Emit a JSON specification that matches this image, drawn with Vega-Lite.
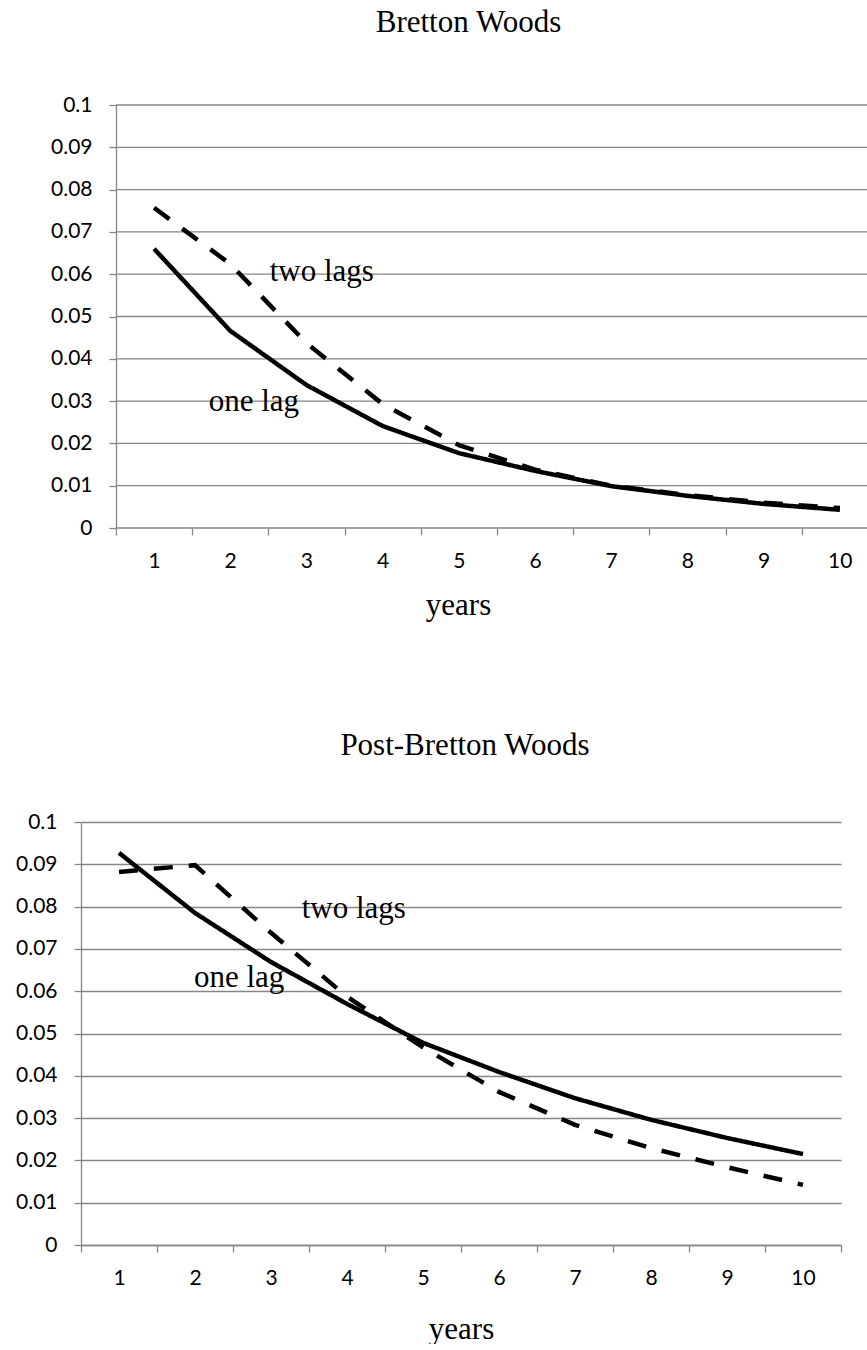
{
  "$schema": "https://vega.github.io/schema/vega-lite/v6.json",
  "background": "white",
  "padding": {"left": 15, "top": 7, "right": 0, "bottom": 0},
  "spacing": 110,
  "config": {
    "view": {"stroke": null},
    "axis": {
      "domainColor": "#868686", "tickColor": "#868686", "gridColor": "#868686",
      "domainWidth": 1.3, "tickWidth": 1.3, "gridWidth": 1.3, "tickSize": 7,
      "labelFont": "Lato", "labelFontSize": 21, "labelColor": "#000000",
      "titleFont": "Liberation Serif", "titleFontSize": 31, "titleFontWeight": "normal", "titleColor": "#000000",
      "labelFlush": false, "labelOverlap": false
    },
    "title": {"font": "Liberation Serif", "fontSize": 31, "fontWeight": "normal", "color": "#000000"}
  },
  "datasets": {
    "curves": [
      {"period": "Bretton Woods", "series": "one lag", "year": 1, "value": 0.066},
      {"period": "Bretton Woods", "series": "one lag", "year": 2, "value": 0.0466},
      {"period": "Bretton Woods", "series": "one lag", "year": 3, "value": 0.0338},
      {"period": "Bretton Woods", "series": "one lag", "year": 4, "value": 0.0241},
      {"period": "Bretton Woods", "series": "one lag", "year": 5, "value": 0.0177},
      {"period": "Bretton Woods", "series": "one lag", "year": 6, "value": 0.0135},
      {"period": "Bretton Woods", "series": "one lag", "year": 7, "value": 0.0099},
      {"period": "Bretton Woods", "series": "one lag", "year": 8, "value": 0.0076},
      {"period": "Bretton Woods", "series": "one lag", "year": 9, "value": 0.0057},
      {"period": "Bretton Woods", "series": "one lag", "year": 10, "value": 0.0043},
      {"period": "Bretton Woods", "series": "two lags", "year": 1, "value": 0.0757},
      {"period": "Bretton Woods", "series": "two lags", "year": 2, "value": 0.0624},
      {"period": "Bretton Woods", "series": "two lags", "year": 3, "value": 0.0437},
      {"period": "Bretton Woods", "series": "two lags", "year": 4, "value": 0.0293},
      {"period": "Bretton Woods", "series": "two lags", "year": 5, "value": 0.0196},
      {"period": "Bretton Woods", "series": "two lags", "year": 6, "value": 0.0138},
      {"period": "Bretton Woods", "series": "two lags", "year": 7, "value": 0.0100},
      {"period": "Bretton Woods", "series": "two lags", "year": 8, "value": 0.0078},
      {"period": "Bretton Woods", "series": "two lags", "year": 9, "value": 0.0060},
      {"period": "Bretton Woods", "series": "two lags", "year": 10, "value": 0.0047},
      {"period": "Post-Bretton Woods", "series": "one lag", "year": 1, "value": 0.0927},
      {"period": "Post-Bretton Woods", "series": "one lag", "year": 2, "value": 0.0785},
      {"period": "Post-Bretton Woods", "series": "one lag", "year": 3, "value": 0.0669},
      {"period": "Post-Bretton Woods", "series": "one lag", "year": 4, "value": 0.057},
      {"period": "Post-Bretton Woods", "series": "one lag", "year": 5, "value": 0.0478},
      {"period": "Post-Bretton Woods", "series": "one lag", "year": 6, "value": 0.0409},
      {"period": "Post-Bretton Woods", "series": "one lag", "year": 7, "value": 0.0347},
      {"period": "Post-Bretton Woods", "series": "one lag", "year": 8, "value": 0.0296},
      {"period": "Post-Bretton Woods", "series": "one lag", "year": 9, "value": 0.0253},
      {"period": "Post-Bretton Woods", "series": "one lag", "year": 10, "value": 0.0215},
      {"period": "Post-Bretton Woods", "series": "two lags", "year": 1, "value": 0.0882},
      {"period": "Post-Bretton Woods", "series": "two lags", "year": 2, "value": 0.0898},
      {"period": "Post-Bretton Woods", "series": "two lags", "year": 3, "value": 0.0738},
      {"period": "Post-Bretton Woods", "series": "two lags", "year": 4, "value": 0.0587},
      {"period": "Post-Bretton Woods", "series": "two lags", "year": 5, "value": 0.0467},
      {"period": "Post-Bretton Woods", "series": "two lags", "year": 6, "value": 0.0362},
      {"period": "Post-Bretton Woods", "series": "two lags", "year": 7, "value": 0.0284},
      {"period": "Post-Bretton Woods", "series": "two lags", "year": 8, "value": 0.0229},
      {"period": "Post-Bretton Woods", "series": "two lags", "year": 9, "value": 0.0184},
      {"period": "Post-Bretton Woods", "series": "two lags", "year": 10, "value": 0.0142}
    ],
    "notes": [
      {"period": "Bretton Woods", "label": "two lags", "year": 3.2, "value": 0.0584},
      {"period": "Bretton Woods", "label": "one lag", "year": 2.31, "value": 0.0277},
      {"period": "Post-Bretton Woods", "label": "two lags", "year": 4.09, "value": 0.0773},
      {"period": "Post-Bretton Woods", "label": "one lag", "year": 2.58, "value": 0.061}
    ],
    "gridlines": [
      {"value": 0}, {"value": 0.01}, {"value": 0.02}, {"value": 0.03}, {"value": 0.04},
      {"value": 0.05}, {"value": 0.06}, {"value": 0.07}, {"value": 0.08}, {"value": 0.09}, {"value": 0.1}
    ]
  },
  "vconcat": [
    {
      "width": 797,
      "height": 423,
      "title": {"text": "Bretton Woods", "dx": -11, "offset": 55},
      "layer": [
        {
          "data": {"name": "gridlines"},
          "mark": {"type": "rule", "color": "#868686", "strokeWidth": 1.3},
          "encoding": {
            "x": {"datum": 0.5, "type": "quantitative", "scale": {"domain": [0.0407, 10.5], "nice": false, "zero": false}},
            "x2": {"datum": 10.5},
            "y": {"field": "value", "type": "quantitative", "scale": {"domain": [0, 0.1], "nice": false}}
          }
        },
        {
          "data": {"name": "curves"},
          "transform": [{"filter": "datum.period === 'Bretton Woods'"}],
          "mark": {"type": "line", "color": "#000000", "strokeWidth": 4.5},
          "encoding": {
            "x": {
              "field": "year", "type": "quantitative",
              "scale": {"domain": [0.0407, 10.5], "nice": false, "zero": false},
              "axis": {
                "values": [0.5, 1.5, 2.5, 3.5, 4.5, 5.5, 6.5, 7.5, 8.5, 9.5, 10.5],
                "labelExpr": "datum.value < 10 ? format(datum.value + 0.5, 'd') : ''",
                "labelOffset": 38, "labelPadding": 15, "grid": false, "domain": false,
                "title": "years", "titleX": 377, "titleY": 86, "titleBaseline": "alphabetic"
              }
            },
            "y": {
              "field": "value", "type": "quantitative",
              "scale": {"domain": [0, 0.1], "nice": false},
              "axis": {
                "values": [0, 0.01, 0.02, 0.03, 0.04, 0.05, 0.06, 0.07, 0.08, 0.09, 0.1],
                "format": "~g", "labelPadding": 17, "grid": false, "offset": -35, "title": null
              }
            },
            "strokeDash": {
              "field": "series", "type": "nominal",
              "scale": {"domain": ["one lag", "two lags"], "range": [[1, 0], [19, 16]]},
              "legend": null
            }
          }
        },
        {
          "data": {"name": "notes"},
          "transform": [{"filter": "datum.period === 'Bretton Woods'"}],
          "mark": {"type": "text", "font": "Liberation Serif", "fontSize": 31, "color": "#000000", "align": "center", "baseline": "alphabetic"},
          "encoding": {
            "x": {"field": "year", "type": "quantitative"},
            "y": {"field": "value", "type": "quantitative"},
            "text": {"field": "label"}
          }
        }
      ]
    },
    {
      "width": 760,
      "height": 423,
      "title": {"text": "Post-Bretton Woods", "dx": 4, "offset": 49},
      "encoding": {
        "x": {
          "field": "year", "type": "quantitative",
          "scale": {"domain": [0.5, 10.5], "nice": false, "zero": false},
          "axis": {
            "values": [0.5, 1.5, 2.5, 3.5, 4.5, 5.5, 6.5, 7.5, 8.5, 9.5, 10.5],
            "labelExpr": "datum.value < 10 ? format(datum.value + 0.5, 'd') : ''",
            "labelOffset": 38, "labelPadding": 15, "grid": false,
            "title": "years", "titleY": 93, "titleBaseline": "alphabetic"
          }
        },
        "y": {
          "field": "value", "type": "quantitative",
          "scale": {"domain": [0, 0.1], "nice": false},
          "axis": {
            "values": [0, 0.01, 0.02, 0.03, 0.04, 0.05, 0.06, 0.07, 0.08, 0.09, 0.1],
            "format": "~g", "labelPadding": 17, "grid": true, "title": null
          }
        }
      },
      "layer": [
        {
          "data": {"name": "curves"},
          "transform": [{"filter": "datum.period === 'Post-Bretton Woods'"}],
          "mark": {"type": "line", "color": "#000000", "strokeWidth": 4.5},
          "encoding": {
            "strokeDash": {
              "field": "series", "type": "nominal",
              "scale": {"domain": ["one lag", "two lags"], "range": [[1, 0], [19, 16]]},
              "legend": null
            }
          }
        },
        {
          "data": {"name": "notes"},
          "transform": [{"filter": "datum.period === 'Post-Bretton Woods'"}],
          "mark": {"type": "text", "font": "Liberation Serif", "fontSize": 31, "color": "#000000", "align": "center", "baseline": "alphabetic"},
          "encoding": {"text": {"field": "label"}}
        }
      ]
    }
  ]
}
